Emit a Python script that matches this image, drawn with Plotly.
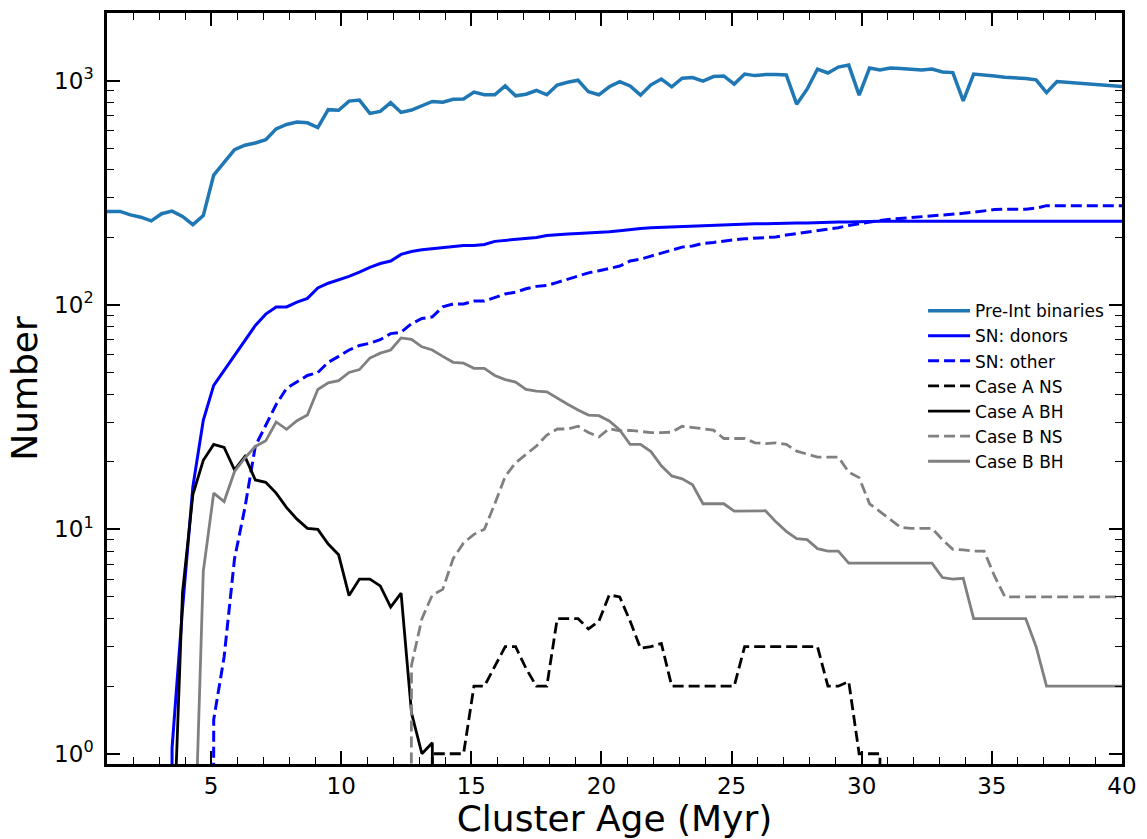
import plotly.graph_objects as go
import math

# ---------------- data ----------------
AGES = [0.7, 1.1, 1.5, 1.9, 2.3, 2.7, 3.1, 3.5, 3.9, 4.3, 4.7, 5.1, 5.5, 5.9, 6.3, 6.7, 7.1, 7.5, 7.9, 8.3,
        8.7, 9.1, 9.5, 9.9, 10.3, 10.7, 11.1, 11.5, 11.9, 12.3, 12.7, 13.1, 13.5, 13.9, 14.3, 14.7, 15.1, 15.5, 15.9, 16.3,
        16.7, 17.1, 17.5, 17.9, 18.3, 18.7, 19.1, 19.5, 19.9, 20.3, 20.7, 21.1, 21.5, 21.9, 22.3, 22.7, 23.1, 23.5, 23.9, 24.3,
        24.7, 25.1, 25.5, 25.9, 26.3, 26.7, 27.1, 27.5, 27.9, 28.3, 28.7, 29.1, 29.5, 29.9, 30.3, 30.7, 31.1, 31.5, 31.9, 32.3,
        32.7, 33.1, 33.5, 33.9, 34.3, 34.7, 35.1, 35.5, 35.9, 36.3, 36.7, 37.1, 37.5, 37.9, 38.3, 38.7, 39.1, 39.5, 39.9, 40.3]

PRE_INT = [261, 261, 261, 252, 246, 237, 255, 262, 248, 228,
           250, 379, 431, 492, 515, 527, 545, 609, 637, 654,
           648, 617, 742, 737, 810, 818, 714, 729, 797, 721,
           739, 770, 807, 800, 825, 827, 888, 864, 864, 947,
           855, 869, 903, 864, 955, 982, 1003, 891, 864, 938,
           989, 946, 861, 957, 1016, 938, 1024, 1031, 995, 1042,
           1048, 964, 1069, 1052, 1063, 1063, 1059, 785, 915, 1125,
           1081, 1148, 1172, 861, 1137, 1115, 1137, 1133, 1125, 1115,
           1125, 1092, 1085, 812, 1069, 1063, 1048, 1035, 1031, 1021,
           1007, 883, 990, 982, 972, 964, 957, 946, 938, 935]

SN_DONORS = [0, 0, 0, 0, 0, 0, 0, 1.06, 4.4, 15.5,
             30.6, 43.8, 51, 60, 70, 81, 91, 98, 98, 103,
             107, 119, 125, 129, 134, 140, 147, 153, 157, 168,
             173, 176, 178, 180, 182, 184, 184, 186, 192, 194,
             196, 198, 200, 204, 206, 207, 208, 209, 210, 212,
             214, 217, 219, 221, 222, 223, 224, 224, 225, 226,
             227, 228, 229, 230, 230, 231, 231, 232, 232, 233,
             233, 234, 234, 235, 235, 236, 236, 236, 236, 236,
             236, 236, 236, 236, 236, 236, 236, 236, 236, 236,
             236, 236, 236, 236, 236, 236, 236, 236, 236, 236]

SN_OTHER = [0, 0, 0, 0, 0, 0, 0, 0, 0, 0,
            0, 1.42, 2.7, 7.4, 12.5, 23.5, 29, 36, 42.5, 45.5,
            48.5, 50, 55.5, 59, 63, 66, 67.5, 70, 74.5, 75.5,
            82.5, 87, 88.5, 98, 101, 101, 104, 104, 108, 112,
            114, 118, 121, 122, 126, 130, 134, 139, 142, 146,
            149, 157, 160, 165, 170, 175, 181, 183, 188, 190,
            193, 195, 197, 198, 199, 201, 205, 208, 212, 215,
            218, 221, 226, 230, 235, 238, 241, 243, 245, 247,
            248, 251, 253, 256, 259, 263, 266, 267, 267, 267,
            270, 277, 277, 277, 277, 277, 277, 277, 277, 277]

CASE_A_NS = [0, 0, 0, 0, 0, 0, 0, 0, 0, 0,
             0, 0, 0, 0, 0, 0, 0, 0, 0, 0,
             0, 0, 0, 0, 0, 0, 0, 0, 0, 0,
             0, 0, 1, 1, 1, 1, 2, 2, 2.45, 3,
             3, 2.4, 2, 2, 4, 4, 4, 3.6, 3.9, 5.1,
             5, 3.9, 2.95, 3, 3.1, 2, 2, 2, 2, 2,
             2, 2, 3, 3, 3, 3, 3, 3, 3, 3,
             2, 2, 2.1, 1, 1, 1, 0, 0, 0, 0,
             0, 0, 0, 0, 0, 0, 0, 0, 0, 0,
             0, 0, 0, 0, 0, 0, 0, 0, 0, 0]

CASE_A_BH = [0, 0, 0, 0, 0, 0, 0, 0.27, 5.2, 14.3,
             20.3, 23.9, 23.2, 18.4, 21.1, 16.6, 16.2, 14.5, 12.5, 11.1,
             10.1, 10.0, 8.6, 7.7, 5.07, 6.0, 6.0, 5.6, 4.5, 5.2,
             1.52, 1.0, 1.12, 0, 0, 0, 0, 0, 0, 0,
             0, 0, 0, 0, 0, 0, 0, 0, 0, 0,
             0, 0, 0, 0, 0, 0, 0, 0, 0, 0,
             0, 0, 0, 0, 0, 0, 0, 0, 0, 0,
             0, 0, 0, 0, 0, 0, 0, 0, 0, 0,
             0, 0, 0, 0, 0, 0, 0, 0, 0, 0,
             0, 0, 0, 0, 0, 0, 0, 0, 0, 0]

CASE_B_NS = [0, 0, 0, 0, 0, 0, 0, 0, 0, 0,
             0, 0, 0, 0, 0, 0, 0, 0, 0, 0,
             0, 0, 0, 0, 0, 0, 0, 0, 0, 0,
             2.48, 4.0, 5.1, 5.4, 7.4, 8.7, 9.5, 10.0, 13.0, 17.2,
             19.8, 21.5, 23.5, 26.3, 28.0, 28.0, 28.8, 27.0, 25.8, 28.1,
             27.5, 27.6, 27.2, 27.0, 27.0, 27.1, 28.8, 28.4, 28.2, 27.7,
             25.4, 25.4, 25.4, 24.3, 24.1, 24.3, 23.9, 22.3, 21.6, 21.0,
             21.0, 21.0, 18.0, 17.0, 13.0, 12.0, 11.0, 10.2, 10.1, 10.1,
             10.1, 9.0, 8.15, 8.1, 8.0, 8.0, 6.2, 5.0, 5.0, 5.0,
             5.0, 5.0, 5.0, 5.0, 5.0, 5.0, 5.0, 5.0, 5.0, 5.0]

CASE_B_BH = [0, 0, 0, 0, 0, 0, 0, 0, 0, 0.2,
             6.5, 14.5, 13.3, 18.1, 20.8, 23.4, 24.8, 30.1, 27.9, 30.5,
             32.3, 42, 45, 46, 50, 51.5, 58, 61, 63, 71.3,
             70.3, 65.1, 63.0, 59, 55.5, 55.0, 52.2, 52.2, 48.5, 46.5,
             45.3, 42.0, 41.3, 41.0, 38.3, 36.1, 34, 32.3, 32.1, 30.4,
             27.7, 23.9, 23.9, 22.2, 19.2, 17.3, 16.8, 15.8, 13.0, 13.0,
             13.0, 12.05, 12.05, 12.05, 12.1, 10.8, 9.8, 9.1, 9.0, 8.2,
             8.0, 8.0, 7.07, 7.07, 7.07, 7.07, 7.07, 7.07, 7.07, 7.07,
             7.07, 6.1, 6.0, 6.05, 4.0, 4.0, 4.0, 4.0, 4.0, 4.0,
             3.0, 2.0, 2.0, 2.0, 2.0, 2.0, 2.0, 2.0, 2.0, 2.0]

X_TICKS = [5, 10, 15, 20, 25, 30, 35, 40]
Y_TICKS = [1, 10, 100, 1000]
Y_TICKTEXT = ["10<sup>0</sup>", "10<sup>1</sup>", "10<sup>2</sup>", "10<sup>3</sup>"]

SERIES = [
    ("Pre-Int binaries", PRE_INT, "#1f77b4", "solid", 3.5),
    ("SN: donors", SN_DONORS, "#0000ff", "solid", 3),
    ("SN: other", SN_OTHER, "#0000ff", "11px,5px", 3),
    ("Case A NS", CASE_A_NS, "#000000", "11px,5px", 2.8),
    ("Case A BH", CASE_A_BH, "#000000", "solid", 2.8),
    ("Case B NS", CASE_B_NS, "#808080", "11px,5px", 2.8),
    ("Case B BH", CASE_B_BH, "#808080", "solid", 2.8),
]

# ---------------- figure ----------------
def log_safe(vals):
    # like matplotlib's log "clip": non-positive counts drop far below the axis
    return [v if v > 0 else 1e-30 for v in vals]

fig = go.Figure()
for k, (name, vals, color, dash, lw) in enumerate(SERIES):
    fig.add_trace(go.Scatter(
        x=AGES, y=log_safe(vals), mode="lines", name=name,
        legendgroup=f"g{k}",
        line=dict(color=color, dash=dash, width=lw),
    ))

minor_y = [m * 10 ** d for d in range(0, 4) for m in range(2, 10)]

fig.update_layout(
    width=1147, height=839,
    margin=dict(l=107, r=24, t=10, b=73),
    paper_bgcolor="white", plot_bgcolor="white",
    font=dict(family="DejaVu Sans", color="black"),
    showlegend=True,
    legend=dict(
        x=0.804, y=0.627, xanchor="left", yanchor="top",
        bgcolor="rgba(0,0,0,0)", borderwidth=0,
        font=dict(size=17, family="DejaVu Sans", color="black"),
        tracegroupgap=0, itemwidth=42,
    ),
)

fig.update_xaxes(
    range=[1, 40], tickvals=X_TICKS, ticktext=[str(t) for t in X_TICKS],
    ticks="inside", ticklen=13, tickwidth=1.8, tickcolor="black",
    minor=dict(ticks="inside", ticklen=7, tickwidth=1.4, tickcolor="black", dtick=1, tick0=0, showgrid=False),
    showline=True, linewidth=2.5, linecolor="black", mirror="ticks",
    showgrid=False, zeroline=False,
    tickfont=dict(size=23, family="DejaVu Sans", color="black"),
    title=dict(text="Cluster Age (Myr)", font=dict(size=36, family="DejaVu Sans", color="black"), standoff=4),
)
fig.update_yaxes(
    type="log", range=[math.log10(0.9), math.log10(2000)],
    tickvals=Y_TICKS, ticktext=Y_TICKTEXT,
    ticks="inside", ticklen=13, tickwidth=1.8, tickcolor="black",
    minor=dict(ticks="inside", ticklen=7, tickwidth=1.4, tickcolor="black", tickvals=minor_y, showgrid=False),
    showline=True, linewidth=2.5, linecolor="black", mirror="ticks",
    showgrid=False, zeroline=False,
    tickfont=dict(size=23, family="DejaVu Sans", color="black"),
    ticklabelstandoff=6,
    title=dict(text="Number", font=dict(size=36, family="DejaVu Sans", color="black"), standoff=6),
)

fig.write_html("out.html")
